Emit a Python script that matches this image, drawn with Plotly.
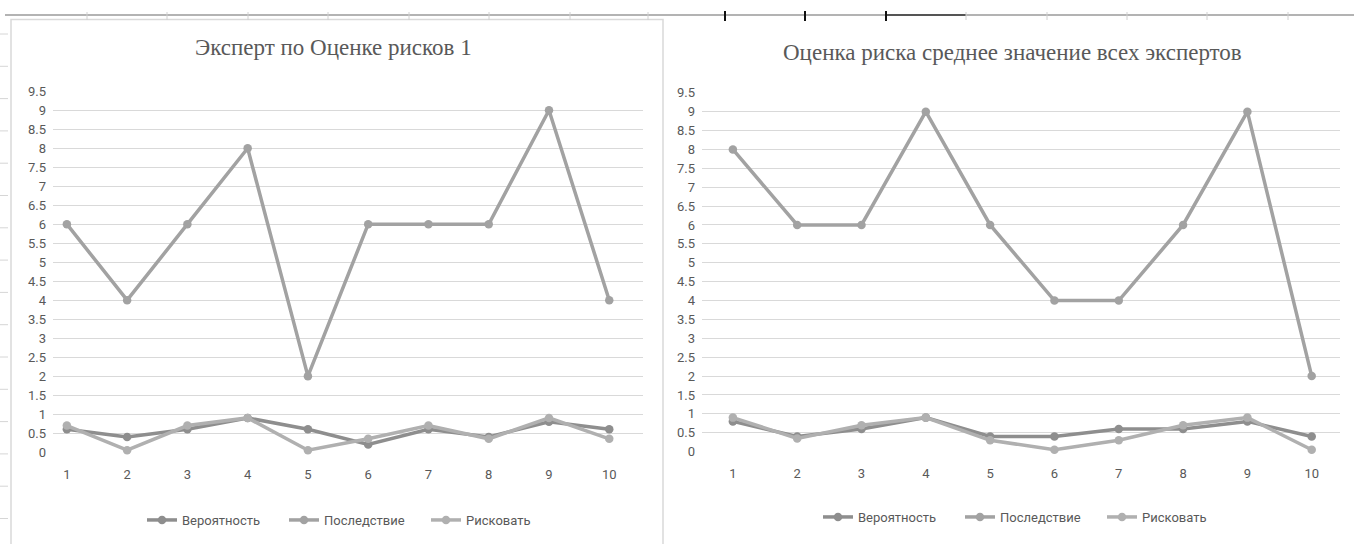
import plotly.graph_objects as go

categories = [1, 2, 3, 4, 5, 6, 7, 8, 9, 10]
series_names = ["Вероятность", "Последствие", "Рисковать"]

# Left chart: Эксперт по Оценке рисков 1
left_prob = [0.6, 0.4, 0.6, 0.9, 0.6, 0.2, 0.6, 0.4, 0.8, 0.6]
left_cons = [6, 4, 6, 8, 2, 6, 6, 6, 9, 4]
left_risk = [0.7, 0.05, 0.7, 0.9, 0.05, 0.35, 0.7, 0.35, 0.9, 0.35]

# Right chart: Оценка риска среднее значение всех экспертов
right_prob = [0.8, 0.4, 0.6, 0.9, 0.4, 0.4, 0.6, 0.6, 0.8, 0.4]
right_cons = [8, 6, 6, 9, 6, 4, 4, 6, 9, 2]
right_risk = [0.9, 0.35, 0.7, 0.9, 0.3, 0.05, 0.3, 0.7, 0.9, 0.05]

titles = ["Эксперт по Оценке рисков 1", "Оценка риска среднее значение всех экспертов"]
y_ticks = [i * 0.5 for i in range(20)]
y_labels = [("%g" % v) for v in y_ticks]

colors = ["#8e8e8e", "#a2a2a2", "#b0b0b0"]

W, H = 1354, 544
def px(x):
    return x / W
def py(y):
    return 1 - y / H

fig = go.Figure()

panels = [
    (left_prob, left_cons, left_risk, "x", "y", "legend"),
    (right_prob, right_cons, right_risk, "x2", "y2", "legend2"),
]
for pi, (p, c, r, xa, ya, lg) in enumerate(panels):
    for name, vals, col in zip(series_names, [p, c, r], colors):
        fig.add_trace(go.Scatter(
            x=categories, y=vals, name=name, mode="lines+markers",
            line=dict(color=col, width=3.5),
            marker=dict(color=col, size=8.5, symbol="circle"),
            xaxis=xa, yaxis=ya, legend=lg, cliponaxis=False,
        ))

FONT = "Roboto, Liberation Sans, Arial"
tick_font = dict(family=FONT, size=13, color="#595959")

xcommon = dict(tickmode="array", tickvals=categories, ticktext=[str(c) for c in categories],
               showgrid=False, zeroline=False, showline=False, ticks="",
               tickfont=tick_font, ticklabelstandoff=12)
ycommon = dict(tickmode="array", tickvals=y_ticks, ticktext=y_labels, range=[-0.01, 9.52],
               showgrid=True, gridcolor="#d9d9d9", gridwidth=1, zeroline=False,
               showline=False, ticks="", tickfont=tick_font, ticklabelstandoff=6)

legend_common = dict(orientation="h", xanchor="center", yanchor="middle",
                     font=dict(family=FONT, size=13, color="#595959"),
                     bgcolor="rgba(0,0,0,0)", itemclick=False,
                     entrywidth=97, entrywidthmode="pixels")

fig.update_layout(
    width=W, height=H,
    margin=dict(l=0, r=0, t=0, b=0, autoexpand=False),
    paper_bgcolor="white", plot_bgcolor="white",
    xaxis=dict(domain=[px(53), px(643)], range=[0.77, 10.56], anchor="y", **xcommon),
    yaxis=dict(domain=[py(452.5), py(90.5)], anchor="x", **ycommon),
    xaxis2=dict(domain=[px(702), px(1340)], range=[0.52, 10.44], anchor="y2", **xcommon),
    yaxis2=dict(domain=[py(452), py(92)], anchor="x2", **ycommon),
    legend=dict(x=px(355), y=py(520), **legend_common),
    legend2=dict(x=px(1031), y=py(517), **legend_common),
    showlegend=True,
)

# Titles
fig.add_annotation(text=titles[0], x=px(333), y=py(47), xref="paper", yref="paper",
                   showarrow=False, xanchor="center", yanchor="middle",
                   font=dict(family="Liberation Serif, Times New Roman, serif", size=23, color="#595959"))
fig.add_annotation(text=titles[1], x=px(1012), y=py(52), xref="paper", yref="paper",
                   showarrow=False, xanchor="center", yanchor="middle",
                   font=dict(family="Liberation Serif, Times New Roman, serif", size=23, color="#595959"))

shapes = []
# spreadsheet background lines at top
shapes.append(dict(type="line", xref="paper", yref="paper", x0=px(5), x1=1, y0=py(15), y1=py(15),
                   line=dict(color="#9a9a9a", width=1.5)))
shapes.append(dict(type="line", xref="paper", yref="paper", x0=px(886), x1=px(966), y0=py(15), y1=py(15),
                   line=dict(color="#555555", width=2)))
for xv in [87, 167, 248, 328, 409, 489, 570, 648, 966, 1047, 1127, 1207, 1288]:
    shapes.append(dict(type="line", xref="paper", yref="paper", x0=px(xv), x1=px(xv), y0=py(12), y1=py(20),
                       line=dict(color="#d0d0d0", width=1)))
for xv in [725, 805, 886]:
    shapes.append(dict(type="line", xref="paper", yref="paper", x0=px(xv), x1=px(xv), y0=py(11), y1=py(21),
                       line=dict(color="#111111", width=2)))
# row marks at left edge
for k in range(16):
    yv = 34 + 32.3 * k
    shapes.append(dict(type="line", xref="paper", yref="paper", x0=0, x1=px(8), y0=py(yv), y1=py(yv),
                       line=dict(color="#d6d6d6", width=1)))
# left panel border
shapes.append(dict(type="rect", xref="paper", yref="paper", x0=px(11), x1=px(663), y0=py(570), y1=py(19.5),
                   line=dict(color="#d9d9d9", width=1.5), fillcolor="rgba(0,0,0,0)", layer="below"))
fig.update_layout(shapes=shapes)

fig.write_html("out.html", config={"displayModeBar": False},
               post_script="document.body.style.margin='0';document.body.style.padding='0';document.body.style.overflow='hidden';")
